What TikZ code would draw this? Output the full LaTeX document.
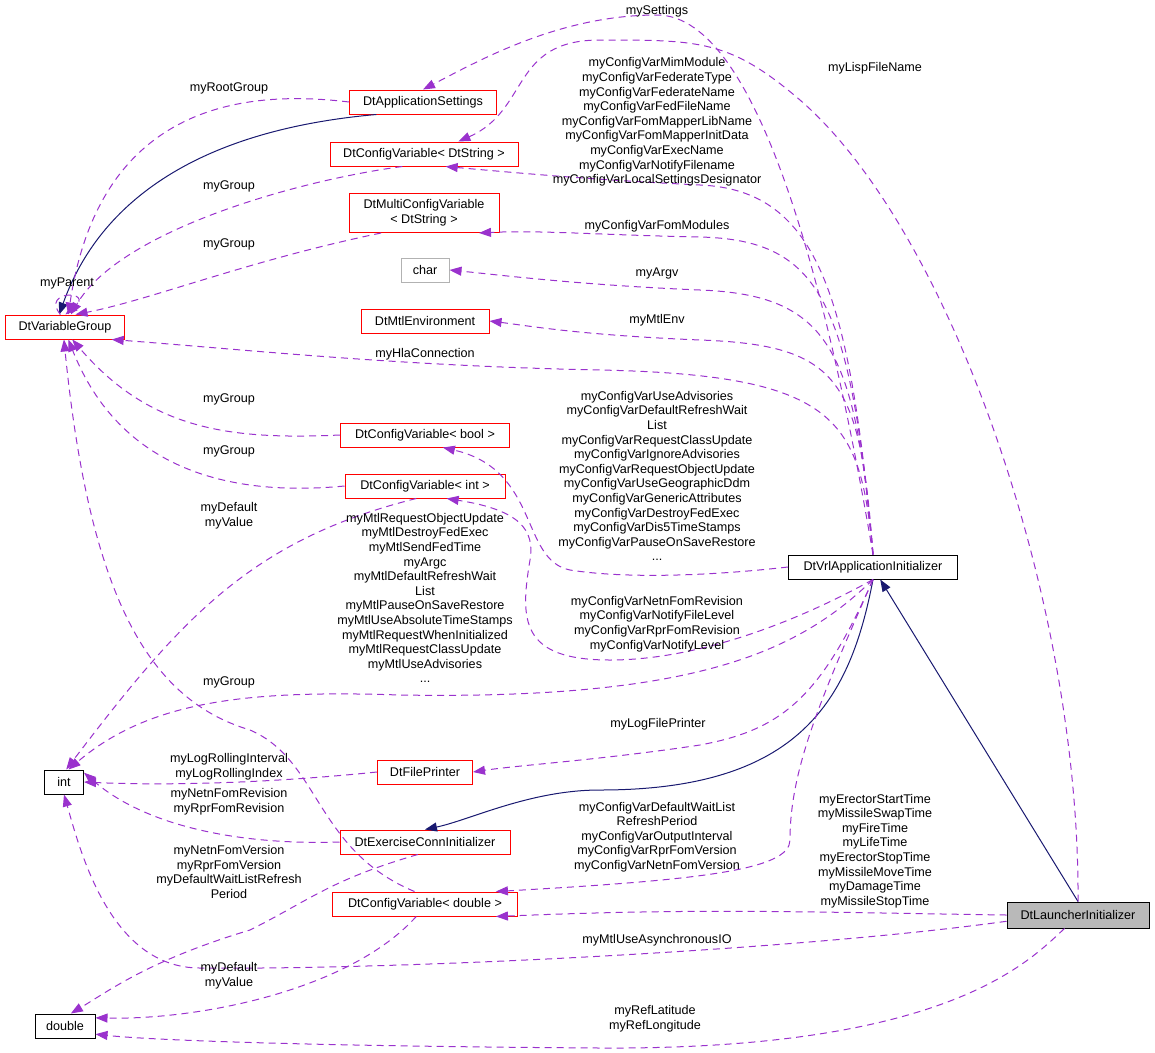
\documentclass[tikz,border=0pt]{standalone}
\usepackage{fontspec}
\setmainfont{Liberation Sans}
\usepackage{tikz}
\usetikzlibrary{arrows.meta}
\definecolor{edgepurple}{HTML}{9A32CD}
\definecolor{edgenavy}{HTML}{191970}
\tikzset{>={Triangle[length=9pt,width=6pt]}}
\tikzset{
  cls/.style={draw=red,line width=1pt,inner sep=0pt,minimum height=24pt,align=center,font=\fontsize{12.6}{15}\selectfont},
  ext/.style={cls,draw=black},
  lbl/.style={align=center,font=\fontsize{12.6}{14.6}\selectfont,inner sep=0pt},
  use/.style={draw=edgepurple,dash pattern=on 7pt off 5pt,line width=1pt,-{Triangle[length=12pt,width=9pt,fill=edgepurple]}},
  inh/.style={draw=edgenavy,line width=1pt,-{Triangle[length=12pt,width=9pt,fill=edgenavy]}}
}

\begin{document}
\begin{tikzpicture}[x=1pt,y=-1pt]
      \useasboundingbox (0,0) rectangle (1155,1052);

      \node[cls,minimum width=147pt](settings) at (423,102) {DtApplicationSettings};
      \node[cls,minimum width=188pt](cstring) at (424,154) {DtConfigVariable< DtString >};
      \node[cls,minimum width=150pt,minimum height=39pt](multi) at (424,213) {DtMultiConfigVariable\\< DtString >};
      \node[cls,draw=gray!60,minimum width=48pt](char) at (425,270) {char};
      \node[cls,minimum width=128pt](mtlenv) at (425,321) {DtMtlEnvironment};
      \node[cls,minimum width=119pt](group) at (65,327) {DtVariableGroup};
      \node[cls,minimum width=169pt](cbool) at (425,435) {DtConfigVariable< bool >};
      \node[cls,minimum width=160pt](cint) at (425,486) {DtConfigVariable< int >};
      \node[ext,minimum width=169pt](vrl) at (873,567) {DtVrlApplicationInitializer};
      \node[ext,minimum width=39pt](int) at (64,782) {int};
      \node[cls,minimum width=95pt](printer) at (425,772) {DtFilePrinter};
      \node[cls,minimum width=170pt](exercise) at (425,842) {DtExerciseConnInitializer};
      \node[cls,minimum width=185pt](cdouble) at (425,904) {DtConfigVariable< double >};
      \node[ext,fill=gray!55,minimum width=142pt,minimum height=26pt](launcher) at (1078,915) {DtLauncherInitializer};
      \node[ext,minimum width=60pt](double) at (65,1026) {double};

      % inheritance
      \draw[inh] (settings.195) .. controls (200,130) and (100,200) .. (group.115);
      \draw[inh] (vrl.south) .. controls (850,700) and (800,790) .. (600,790) .. controls (530,790) and (470,820) .. (exercise.north);
      \draw[inh] (launcher.north) -- (vrl.300);

      % members of DtVrlApplicationInitializer
      \draw[use] (vrl.north) .. controls (830,300) and (760,15) .. (657,15) .. controls (560,15) and (480,60) .. (settings.north);
      \draw[use] (vrl.north) .. controls (850,300) and (820,190) .. (700,185) .. controls (600,180) and (540,175) .. (cstring.330);
      \draw[use] (vrl.north) .. controls (850,300) and (820,240) .. (700,237) .. controls (600,235) and (540,230) .. (multi.340);
      \draw[use] (vrl.north) .. controls (855,350) and (830,295) .. (700,290) .. controls (580,285) and (500,275) .. (char.east);
      \draw[use] (vrl.north) .. controls (860,380) and (840,345) .. (700,340) .. controls (580,335) and (530,326) .. (mtlenv.east);
      \draw[use] (vrl.north) .. controls (860,420) and (840,375) .. (600,370) .. controls (400,366) and (250,350) .. (group.345);
      \draw[use] (vrl.west) .. controls (700,577) and (620,578) .. (570,570) .. controls (520,560) and (540,470) .. (cbool.325);
      \draw[use] (vrl.south) .. controls (800,620) and (700,660) .. (610,660) .. controls (520,660) and (520,620) .. (530,560) .. controls (535,530) and (520,510) .. (cint.330);
      \draw[use] (vrl.south) .. controls (800,650) and (700,700) .. (400,695) .. controls (250,690) and (150,700) .. (int.70);
      \draw[use] (vrl.south) .. controls (820,700) and (780,730) .. (700,745) .. controls (600,760) and (520,765) .. (printer.east);
      \draw[use] (vrl.south) .. controls (820,700) and (790,770) .. (790,840) .. controls (790,870) and (700,880) .. (cdouble.10);

      % members of DtLauncherInitializer
      \draw[use] (launcher.north) .. controls (1080,600) and (950,230) .. (800,100) .. controls (730,40) and (700,40) .. (600,40) .. controls (510,40) and (530,110) .. (cstring.20);
      \draw[use] (launcher.west) .. controls (800,912) and (700,908) .. (cdouble.350);
      \draw[use] (launcher.185) .. controls (800,950) and (400,970) .. (200,968) .. controls (110,968) and (80,850) .. (int.south);
      \draw[use] (launcher.225) .. controls (1030,960) and (950,1050) .. (600,1048) .. controls (300,1046) and (150,1040) .. (double.345);

      % other members
      \draw[use] (settings.west) .. controls (250,90) and (100,100) .. (group.75);
      \draw[use] (cstring.210) .. controls (300,180) and (120,230) .. (group.65);
      \draw[use] (multi.205) .. controls (250,260) and (150,300) .. (group.50);
      \draw[use] (group.110) .. controls (40,290) and (95,290) .. (group.88);
      \draw[use] (cbool.west) .. controls (230,440) and (150,430) .. (group.300);
      \draw[use] (cint.west) .. controls (230,497) and (120,470) .. (group.285);
      \draw[use] (cint.235) .. controls (250,540) and (180,620) .. (int.80);
      \draw[use] (cdouble.130) .. controls (315,850) and (320,760) .. (250,730) .. controls (150,700) and (90,600) .. (group.265);
      \draw[use] (printer.west) .. controls (250,785) and (150,785) .. (int.east);
      \draw[use] (exercise.west) .. controls (250,845) and (150,830) .. (int.25);
      \draw[use] (exercise.240) .. controls (330,880) and (310,900) .. (250,930) .. controls (150,960) and (110,990) .. (double.65);
      \draw[use] (cdouble.235) .. controls (350,990) and (200,1020) .. (double.15);

      % labels
      \node[lbl](lsettings) at (657,11) {mySettings};
      \node[lbl](llisp) at (875,68) {myLispFileName};
      \node[lbl](lstring) at (657,122) {myConfigVarMimModule\\myConfigVarFederateType\\myConfigVarFederateName\\myConfigVarFedFileName\\myConfigVarFomMapperLibName\\myConfigVarFomMapperInitData\\myConfigVarExecName\\myConfigVarNotifyFilename\\myConfigVarLocalSettingsDesignator};
      \node[lbl](lfom) at (657,226) {myConfigVarFomModules};
      \node[lbl](largv) at (657,273) {myArgv};
      \node[lbl](lmtl) at (657,320) {myMtlEnv};
      \node[lbl](lhla) at (425,354) {myHlaConnection};
      \node[lbl](lroot) at (229,88) {myRootGroup};
      \node[lbl](lg1) at (229,186) {myGroup};
      \node[lbl](lg2) at (229,244) {myGroup};
      \node[lbl](lparent) at (67,283) {myParent};
      \node[lbl](lg3) at (229,399) {myGroup};
      \node[lbl](lg4) at (229,451) {myGroup};
      \node[lbl](ldefint) at (229,516) {myDefault\\myValue};
      \node[lbl](lbool) at (657,476) {myConfigVarUseAdvisories\\myConfigVarDefaultRefreshWait\\List\\myConfigVarRequestClassUpdate\\myConfigVarIgnoreAdvisories\\myConfigVarRequestObjectUpdate\\myConfigVarUseGeographicDdm\\myConfigVarGenericAttributes\\myConfigVarDestroyFedExec\\myConfigVarDis5TimeStamps\\myConfigVarPauseOnSaveRestore\\...};
      \node[lbl](lmtlint) at (425,598) {myMtlRequestObjectUpdate\\myMtlDestroyFedExec\\myMtlSendFedTime\\myArgc\\myMtlDefaultRefreshWait\\List\\myMtlPauseOnSaveRestore\\myMtlUseAbsoluteTimeStamps\\myMtlRequestWhenInitialized\\myMtlRequestClassUpdate\\myMtlUseAdvisories\\...};
      \node[lbl](lnetn) at (657,624) {myConfigVarNetnFomRevision\\myConfigVarNotifyFileLevel\\myConfigVarRprFomRevision\\myConfigVarNotifyLevel};
      \node[lbl](lg5) at (229,682) {myGroup};
      \node[lbl](llog) at (658,724) {myLogFilePrinter};
      \node[lbl](lroll) at (229,767) {myLogRollingInterval\\myLogRollingIndex};
      \node[lbl](lrev) at (229,802) {myNetnFomRevision\\myRprFomRevision};
      \node[lbl](lver) at (229,872) {myNetnFomVersion\\myRprFomVersion\\myDefaultWaitListRefresh\\Period};
      \node[lbl](lcdbl) at (657,837) {myConfigVarDefaultWaitList\\RefreshPeriod\\myConfigVarOutputInterval\\myConfigVarRprFomVersion\\myConfigVarNetnFomVersion};
      \node[lbl](ltimes) at (875,851) {myErectorStartTime\\myMissileSwapTime\\myFireTime\\myLifeTime\\myErectorStopTime\\myMissileMoveTime\\myDamageTime\\myMissileStopTime};
      \node[lbl](lasync) at (657,940) {myMtlUseAsynchronousIO};
      \node[lbl](ldefdbl) at (229,976) {myDefault\\myValue};
      \node[lbl](lref) at (655,1019) {myRefLatitude\\myRefLongitude};
    \end{tikzpicture}
\end{document}
